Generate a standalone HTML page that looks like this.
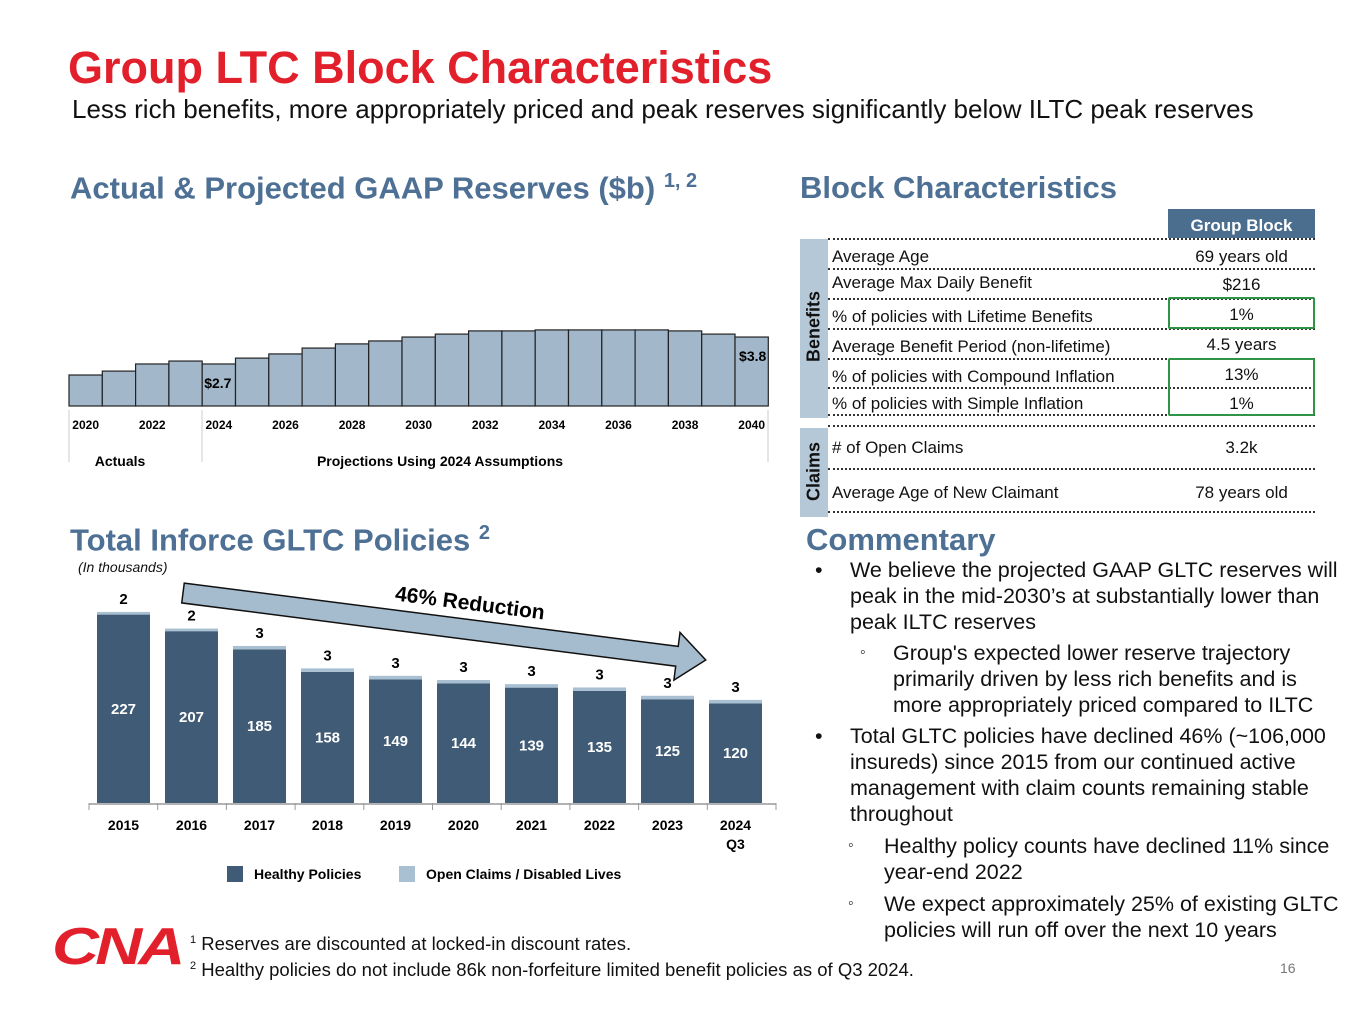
<!DOCTYPE html>
<html><head><meta charset="utf-8">
<style>
body{margin:0;width:1365px;height:1024px;position:relative;background:#fff;font-family:"Liberation Sans",Arial,sans-serif;overflow:hidden;color:#111}
.a{position:absolute}
.h2{font-weight:bold;font-size:31px;color:#4d7094}
.row{position:absolute;left:832px;width:483px;font-size:17px;color:#111}
.row .v{position:absolute;left:336px;width:147px;text-align:center;top:0}
.dl{position:absolute;left:828px;width:487px;border-top:2px dotted #333;height:0}
.cm{position:absolute;font-size:21.5px;line-height:26px;color:#111}
</style></head><body>
<div class="a" style="left:68px;top:42px;font-size:45px;font-weight:bold;color:#e2202b">Group LTC Block Characteristics</div>
<div class="a" style="left:72px;top:94px;font-size:26px">Less rich benefits, more appropriately priced and peak reserves significantly below ILTC peak reserves</div>

<div class="a h2" style="left:70px;top:170px">Actual &amp; Projected GAAP Reserves ($b) <sup style="font-size:20px">1, 2</sup></div>
<svg class="a" style="left:0;top:300px" width="790" height="180" id="res"></svg>

<div class="a h2" style="left:70px;top:522px">Total Inforce GLTC Policies <sup style="font-size:20px">2</sup></div>
<div class="a" style="left:78px;top:559px;font-size:14px;font-style:italic">(In thousands)</div>
<svg class="a" style="left:0;top:570px" width="790" height="320" id="pol"></svg>

<div class="a h2" style="left:800px;top:170px">Block Characteristics</div>
<div class="a" style="left:1168px;top:209px;width:147px;height:29px;background:#4b6e8f;color:#fff;font-weight:bold;font-size:17px;text-align:center;line-height:34px">Group Block</div>
<div class="a" style="left:800px;top:239px;width:28px;height:179px;background:#b5c8d8"><div style="position:absolute;left:-76px;top:77px;width:180px;text-align:center;transform:rotate(-90deg);font-weight:bold;font-size:18px">Benefits</div></div>
<div class="a" style="left:800px;top:428px;width:28px;height:89px;background:#b5c8d8"><div style="position:absolute;left:-76px;top:33px;width:180px;text-align:center;transform:rotate(-90deg);font-weight:bold;font-size:18px">Claims</div></div>
<div class="dl" style="top:238px"></div><div class="dl" style="top:268px"></div><div class="dl" style="top:298px"></div><div class="dl" style="top:328px"></div><div class="dl" style="top:358px"></div><div class="dl" style="top:387px"></div><div class="dl" style="top:414px"></div><div class="dl" style="top:425px"></div><div class="dl" style="top:468px"></div><div class="dl" style="top:511px"></div>
<div class="row" style="top:247px">Average Age<span class="v">69 years old</span></div>
<div class="row" style="top:273px">Average Max Daily Benefit<span class="v" style="top:2px">$216</span></div>
<div class="row" style="top:307px">% of policies with Lifetime Benefits<span class="v" style="top:-2px">1%</span></div>
<div class="row" style="top:337px">Average Benefit Period (non-lifetime)<span class="v" style="top:-2px">4.5 years</span></div>
<div class="row" style="top:367px">% of policies with Compound Inflation<span class="v" style="top:-2px">13%</span></div>
<div class="row" style="top:394px">% of policies with Simple Inflation<span class="v">1%</span></div>
<div class="row" style="top:438px">#&nbsp;of Open Claims<span class="v">3.2k</span></div>
<div class="row" style="top:483px">Average Age of New Claimant<span class="v">78 years old</span></div>
<div class="a" style="left:1168px;top:297px;width:143px;height:28px;border:2px solid #2e9446;border-radius:2px"></div>
<div class="a" style="left:1168px;top:358px;width:143px;height:54px;border:2px solid #2e9446;border-radius:2px"></div>

<div class="a h2" style="left:806px;top:522px">Commentary</div>
<div>
<div class="cm" style="left:815px;top:557px">•</div>
<div class="cm" style="left:850px;top:557px;width:500px">We believe the projected GAAP GLTC reserves will peak in the mid-2030’s at substantially lower than peak ILTC reserves</div>
<div class="cm" style="left:860px;top:640px;font-size:16px">◦</div>
<div class="cm" style="left:893px;top:640px;width:430px">Group's expected lower reserve trajectory primarily driven by less rich benefits and is more appropriately priced compared to ILTC</div>
<div class="cm" style="left:815px;top:723px">•</div>
<div class="cm" style="left:850px;top:723px;width:495px">Total GLTC policies have declined 46% (~106,000 insureds) since 2015 from our continued active management with claim counts remaining stable throughout</div>
<div class="cm" style="left:848px;top:833px;font-size:16px">◦</div>
<div class="cm" style="left:884px;top:833px;width:465px">Healthy policy counts have declined 11% since year-end 2022</div>
<div class="cm" style="left:848px;top:891px;font-size:16px">◦</div>
<div class="cm" style="left:884px;top:891px;width:475px">We expect approximately 25% of existing GLTC policies will run off over the next 10 years</div>
</div>

<div class="a" style="left:52px;top:922px;font-size:52px;font-weight:900;font-style:italic;color:#e2202b;letter-spacing:-3px;transform:scaleX(1.25);transform-origin:left;line-height:50px">CNA</div>
<div class="a" style="left:190px;top:929px;font-size:18.5px;line-height:23px"><sup style="font-size:11px">1</sup> Reserves are discounted at locked-in discount rates.<br><sup style="font-size:11px">2</sup> Healthy policies do not include 86k non-forfeiture limited benefit policies as of Q3 2024.</div>
<div class="a" style="left:1280px;top:960px;font-size:14px;color:#777">16</div>

<script>
const NS="http://www.w3.org/2000/svg";
function mk(p,t,a,txt){const e=document.createElementNS(NS,t);for(const k in a)e.setAttribute(k,a[k]);if(txt!==undefined)e.textContent=txt;p.appendChild(e);return e;}

// Reserves chart data
const resYears=[2020,2021,2022,2023,2024,2025,2026,2027,2028,2029,2030,2031,2032,2033,2034,2035,2036,2037,2038,2039,2040];
const resValues=[2.25,2.41,2.7,2.82,2.7,2.94,3.11,3.35,3.52,3.64,3.8,3.92,4.05,4.05,4.09,4.09,4.09,4.09,4.05,3.92,3.8];
const resLabels={2024:"$2.7",2040:"$3.8"};
(function(){
 const svg=document.getElementById('res');
 const x0=69,bw=33.3,base=106;
 const y=v=>base-(v-0.985)*24.5;
 mk(svg,'line',{x1:69,y1:base,x2:768,y2:base,stroke:'#bbb','stroke-width':1});
 resYears.forEach((yr,i)=>{
  const r=mk(svg,'rect',{x:x0+i*bw,y:y(resValues[i]),width:bw,height:base-y(resValues[i]),fill:'#a2b7ca',stroke:'#222','stroke-width':1.2});
  
  
  if(i%2===0){const t=mk(svg,'text',{x:x0+i*bw+bw/2,y:129,'text-anchor':'middle','font-size':12,'font-weight':'bold'},String(yr));
   
   }
  if(resLabels[yr]){const t=mk(svg,'text',{x:x0+i*bw+(yr===2040?bw-2:2),y:y(resValues[i])+24,'text-anchor':yr===2040?'end':'start','font-size':14,'font-weight':'bold'},resLabels[yr]);
   
   }
 });
 mk(svg,'line',{x1:69,y1:110,x2:69,y2:162,stroke:'#ccc'});
 mk(svg,'line',{x1:202,y1:110,x2:202,y2:162,stroke:'#ccc'});
 mk(svg,'line',{x1:768,y1:110,x2:768,y2:162,stroke:'#ccc'});
 mk(svg,'text',{x:120,y:166,'text-anchor':'middle','font-size':14,'font-weight':'bold'},'Actuals');
 mk(svg,'text',{x:440,y:166,'text-anchor':'middle','font-size':14,'font-weight':'bold'},'Projections Using 2024 Assumptions');
})();

// Policies chart data
const polYears=["2015","2016","2017","2018","2019","2020","2021","2022","2023","2024"];
const healthy=[227,207,185,158,149,144,139,135,125,120];
const claims=[2,2,3,3,3,3,3,3,3,3];
(function(){
 const svg=document.getElementById('pol');
 const base=233,k=0.83,x0=97,step=68,bw=53;
 const top=v=>base-v*k;
 const g=mk(svg,'g',{transform:'translate(183,23) rotate(7.3)'});
 
 
 mk(g,'polygon',{points:'0,-10 498,-10 498,-24 527,0 498,24 498,10 0,10',fill:'#a5bccf',stroke:'#111','stroke-width':1.5});
 const rt=mk(svg,'text',{x:470,y:40,'text-anchor':'middle','font-size':21,'font-weight':'bold',transform:'rotate(7.3 470 33)'},'46% Reduction');
 
 
 mk(svg,'line',{x1:89,y1:base+1,x2:776,y2:base+1,stroke:'#999','stroke-width':1.5});
 for(let i=0;i<=10;i++)mk(svg,'line',{x1:89+i*68.7,y1:base,x2:89+i*68.7,y2:base+7,stroke:'#999'});
 polYears.forEach((yr,i)=>{
  const x=x0+i*step, ht=top(healthy[i]), ct=ht-claims[i]*k-1;
  const r=mk(svg,'rect',{x:x,y:ht,width:bw,height:base-ht,fill:'#3f5b76'});
  
  
  const c=mk(svg,'rect',{x:x,y:ct,width:bw,height:ht-ct,fill:'#a9c0d3'});
  
  
  mk(svg,'text',{x:x+bw/2,y:(ht+base)/2+5,'text-anchor':'middle','font-size':15,'font-weight':'bold',fill:'#fff'},String(healthy[i]));
  mk(svg,'text',{x:x+bw/2,y:ct-8,'text-anchor':'middle','font-size':15,'font-weight':'bold'},String(claims[i]));
  mk(svg,'text',{x:x+bw/2,y:base+27,'text-anchor':'middle','font-size':14,'font-weight':'bold'},yr);
 });
 mk(svg,'text',{x:x0+9*step+bw/2,y:base+46,'text-anchor':'middle','font-size':14,'font-weight':'bold'},'Q3');
 const l1=mk(svg,'rect',{x:227,y:296,width:16,height:16,fill:'#3f5b76'});
 
 
 mk(svg,'text',{x:254,y:309,'font-size':14,'font-weight':'bold'},'Healthy Policies');
 const l2=mk(svg,'rect',{x:399,y:296,width:16,height:16,fill:'#a9c0d3'});
 
 
 mk(svg,'text',{x:426,y:309,'font-size':14,'font-weight':'bold'},'Open Claims / Disabled Lives');
})();
</script>
</body></html>
